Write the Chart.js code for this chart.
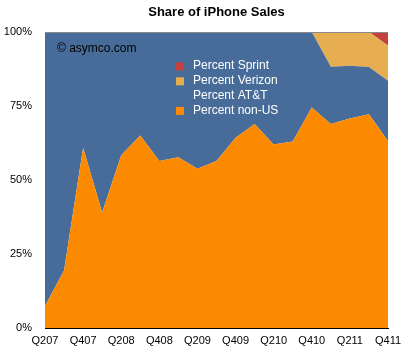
<!DOCTYPE html>
<html>
<head>
<meta charset="utf-8">
<script src="https://cdn.jsdelivr.net/npm/chart.js@4/dist/chart.umd.min.js"></script>
<style>
  html, body { margin: 0; padding: 0; background: #fff; }
  #wrap { width: 409px; height: 354px; }
</style>
</head>
<body>
<div id="wrap"><canvas id="chart" width="409" height="354"></canvas></div>
<script>
// quarters (every other one gets a tick label)
const quarters = ["Q207", "Q307", "Q407", "Q108", "Q208", "Q308", "Q408", "Q109", "Q209", "Q309",
  "Q409", "Q110", "Q210", "Q310", "Q410", "Q111", "Q211", "Q311", "Q411"];

// shares in percent
const nonUS   = [7.4, 19.4, 60.9, 39.0, 58.4, 65.0, 56.4, 57.7, 53.8, 56.4, 64.3, 68.9, 62.0, 63.0, 74.5, 68.9, 70.8, 72.2, 63.2];
const att     = [92.6, 80.6, 39.1, 61.0, 41.6, 35.0, 43.6, 42.3, 46.2, 43.6, 35.7, 31.1, 38.0, 37.0, 25.5, 19.4, 17.8, 16.0, 20.3];
const verizon = [0, 0, 0, 0, 0, 0, 0, 0, 0, 0, 0, 0, 0, 0, 0, 11.7, 11.4, 11.8, 11.9];
const sprint  = [0, 0, 0, 0, 0, 0, 0, 0, 0, 0, 0, 0, 0, 0, 0, 0, 0, 0, 4.6];

const yTicks = [0, 25, 50, 75, 100];

const FONT = 'Helvetica, "Liberation Sans", Arial, sans-serif';

function area(label, data, color, fill) {
  return {
    label: label,
    data: data,
    backgroundColor: color,
    borderColor: color,
    borderWidth: 0,
    pointRadius: 0,
    pointHoverRadius: 0,
    tension: 0,
    fill: fill
  };
}

// legend + credit + top border drawn inside the plot
const extras = {
  id: "extras",
  afterDatasetsDraw(chart) {
    const ctx = chart.ctx;
    const a = chart.chartArea;
    ctx.save();
    // top border line
    ctx.strokeStyle = "#8a8a8a";
    ctx.lineWidth = 1;
    ctx.beginPath();
    ctx.moveTo(a.left, a.top + 0.5);
    ctx.lineTo(a.right, a.top + 0.5);
    ctx.stroke();

    ctx.font = "12px " + FONT;
    ctx.textBaseline = "middle";
    ctx.fillStyle = "#000";
    ctx.fillText("\u00a9 asymco.com", 57, 49);

    // legend, top series first
    const ds = chart.data.datasets.slice().reverse();
    ds.forEach(function (d, i) {
      const y = 66 + i * 14.8;
      ctx.fillStyle = d.backgroundColor;
      ctx.fillRect(176, y - 3.5, 8, 8);
      ctx.fillStyle = "#fff";
      ctx.fillText(d.label, 193, y);
    });
    ctx.restore();
  }
};

new Chart(document.getElementById("chart"), {
  type: "line",
  data: {
    labels: quarters,
    datasets: [
      area("Percent non-US", nonUS, "#fb8a00", "origin"),
      area("Percent AT&T", att, "#476c99", "-1"),
      area("Percent Verizon", verizon, "#e6ae50", "-1"),
      area("Percent Sprint", sprint, "#c5403c", "-1")
    ]
  },
  options: {
    responsive: false,
    animation: false,
    layout: { padding: { left: 0, right: 21, top: 0, bottom: 0 } },
    plugins: {
      legend: { display: false },
      tooltip: { enabled: false },
      title: {
        display: true,
        text: "Share of iPhone Sales",
        fullSize: false,
        color: "#000",
        font: { family: FONT, size: 13, weight: "bold", lineHeight: 1.2 },
        padding: { top: 5, bottom: 11.4 }
      }
    },
    scales: {
      x: {
        type: "category",
        offset: false,
        grid: { display: false, drawTicks: false },
        border: { display: true, color: "#000", width: 1 },
        ticks: {
          autoSkip: false,
          maxRotation: 0,
          padding: 6,
          color: "#000",
          font: { family: FONT, size: 11 },
          callback: function (v, i) { return i % 2 === 0 ? quarters[i] : ""; }
        },
        afterFit: function (s) { s.height = 26; }
      },
      y: {
        stacked: true,
        min: 0,
        max: 100,
        grid: { display: false, drawTicks: false },
        border: { display: false },
        afterBuildTicks: function (s) { s.ticks = yTicks.map(function (v) { return { value: v }; }); },
        ticks: {
          padding: 13,
          color: "#000",
          font: { family: FONT, size: 11 },
          callback: function (v) { return v + "%"; }
        },
        afterFit: function (s) { s.width = 45; }
      }
    }
  },
  plugins: [extras]
});
</script>
</body>
</html>
